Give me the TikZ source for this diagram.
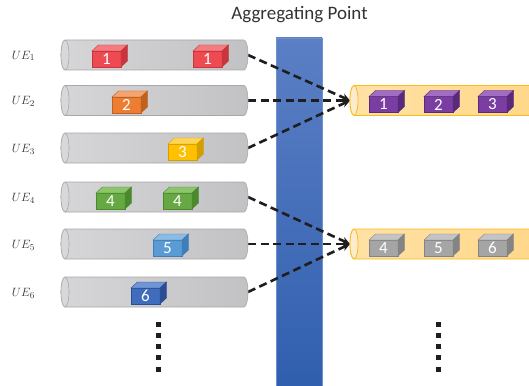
\documentclass[tikz,border=0pt]{standalone}
\usepackage{fontspec}
\setmainfont{Carlito}
\usetikzlibrary{arrows.meta,calc}
\definecolor{titlec}{HTML}{333333}
\definecolor{labelc}{HTML}{333333}
\definecolor{linkc}{HTML}{1E1E1E}
\definecolor{barTop}{HTML}{5B7FC5}
\definecolor{barBot}{HTML}{2F5EAE}
\definecolor{barEdge}{HTML}{7090CC}
\definecolor{tubeL}{HTML}{D6D6D8}
\definecolor{tubeR}{HTML}{C2C2C4}
\definecolor{tubeEdge}{HTML}{A8A8AA}
\definecolor{tubeEnd}{HTML}{D8D8DA}
\definecolor{otubeL}{HTML}{FFE2A6}
\definecolor{otubeR}{HTML}{FFD584}
\definecolor{otubeEdge}{HTML}{F8BC1C}
\definecolor{otubeEnd}{HTML}{FDEBCF}
% cube colours: front / top / side
\definecolor{redF}{HTML}{EE4A52}\definecolor{redT}{HTML}{F47C81}\definecolor{redS}{HTML}{C8353C}
\definecolor{oraF}{HTML}{ED7D31}\definecolor{oraT}{HTML}{F4A46E}\definecolor{oraS}{HTML}{BF621F}
\definecolor{yelF}{HTML}{FFC000}\definecolor{yelT}{HTML}{FFD555}\definecolor{yelS}{HTML}{D29E00}
\definecolor{grnF}{HTML}{66A844}\definecolor{grnT}{HTML}{8DC46C}\definecolor{grnS}{HTML}{4A8A2B}
\definecolor{bluF}{HTML}{5B9BD5}\definecolor{bluT}{HTML}{8CBBE4}\definecolor{bluS}{HTML}{3E7EB9}
\definecolor{dblF}{HTML}{3F6CBC}\definecolor{dblT}{HTML}{7094D4}\definecolor{dblS}{HTML}{2A4E94}
\definecolor{purF}{HTML}{7A3DA2}\definecolor{purT}{HTML}{A16DC3}\definecolor{purS}{HTML}{5A2A7A}
\definecolor{gryF}{HTML}{A5A5A5}\definecolor{gryT}{HTML}{C4C4C4}\definecolor{gryS}{HTML}{848484}
\tikzset{
  tubebox/.style={rectangle, draw=none, minimum height=30pt, inner sep=0pt, outer sep=0pt, anchor=west},
  graybody/.style={left color=tubeL, right color=tubeR, draw=tubeEdge, line width=0.6pt},
  grayend/.style={fill=tubeEnd, draw=tubeEdge, line width=0.6pt},
  orangebody/.style={left color=otubeL, right color=otubeR, draw=otubeEdge, line width=0.8pt},
  orangeend/.style={fill=otubeEnd, draw=otubeEdge, line width=0.8pt},
  cubefront/.style={rectangle, minimum width=29pt, minimum height=16pt, inner sep=0pt, outer sep=0pt,
    text=white, line width=0.4pt, font=\fontsize{17}{17}\selectfont},
  link/.style={line width=2.6pt, draw=linkc, dash pattern=on 8pt off 4.5pt,
    -{Stealth[length=8pt,width=7.5pt]}},
  uelabel/.style={text=labelc, font=\fontsize{12.5}{14}\selectfont},
  dotsq/.style={fill=linkc},
}
\newcommand\drawtube[3]{%
  \path[#2] ([xshift=4pt]#1.north west) -- ([xshift=-4pt]#1.north east)
    arc[start angle=90,end angle=-90,x radius=4pt,y radius=15pt]
    -- ([xshift=4pt]#1.south west)
    arc[start angle=270,end angle=90,x radius=4pt,y radius=15pt] -- cycle;
  \path[#3] ([xshift=4pt]#1.west) ellipse[x radius=4pt,y radius=15pt];
}
\newcommand\mycube[7]{%
  \node[cubefront, fill=#4, draw=#6] (#1) at (#2,#3) {#7};
  \filldraw[fill=#5, draw=#6, line width=0.4pt] (#1.north west) -- ++(6.5pt,6pt)
    -- ([shift={(6.5pt,6pt)}]#1.north east) -- (#1.north east) -- cycle;
  \filldraw[fill=#6, draw=#6, line width=0.4pt] (#1.north east) -- ++(6.5pt,6pt)
    -- ([shift={(6.5pt,6pt)}]#1.south east) -- (#1.south east) -- cycle;
}
\begin{document}
\begin{tikzpicture}[x=1pt,y=-1pt]
\clip (0,0) rectangle (529,385);
% title and bar
\node[text=titlec, font=\fontsize{19}{22}\selectfont] (title) at (299.5,15) {Aggregating Point};
\node[rectangle, minimum width=46pt, minimum height=360pt, inner sep=0pt, outer sep=0pt,
  top color=barTop, bottom color=barBot, draw=barEdge, line width=0.6pt, anchor=north] (bar) at (299,38) {};
% tube placeholders
\node[tubebox, minimum width=187pt] (L1) at (61,55) {};
\node[tubebox, minimum width=187pt] (L2) at (61,100.5) {};
\node[tubebox, minimum width=187pt] (L3) at (61,148) {};
\node[tubebox, minimum width=187pt] (L4) at (61,197) {};
\node[tubebox, minimum width=187pt] (L5) at (61,244) {};
\node[tubebox, minimum width=187pt] (L6) at (61,292) {};
\node[tubebox, minimum width=220pt] (R1) at (350,100.5) {};
\node[tubebox, minimum width=220pt] (R2) at (350,244) {};
% connectors
\draw[link] (L1.east) -- (R1.west);
\draw[link] (L2.east) -- (R1.west);
\draw[link] (L3.east) -- (R1.west);
\draw[link] (L4.east) -- (R2.west);
\draw[link] (L5.east) -- (R2.west);
\draw[link] (L6.east) -- (R2.west);
% tubes
\foreach \t in {L1,L2,L3,L4,L5,L6}{\drawtube{\t}{graybody}{grayend}}
\drawtube{R1}{orangebody}{orangeend}
\drawtube{R2}{orangebody}{orangeend}
% labels
\node[uelabel] (ue1) at (23.5,56) {$UE_1$};
\node[uelabel] (ue2) at (23.5,101.5) {$UE_2$};
\node[uelabel] (ue3) at (23.5,149) {$UE_3$};
\node[uelabel] (ue4) at (23.5,198) {$UE_4$};
\node[uelabel] (ue5) at (23.5,245) {$UE_5$};
\node[uelabel] (ue6) at (23.5,293) {$UE_6$};
% cubes
\mycube{c1a}{106.5}{59}{redF}{redT}{redS}{1}
\mycube{c1b}{207.5}{59}{redF}{redT}{redS}{1}
\mycube{c2}{126.5}{105}{oraF}{oraT}{oraS}{2}
\mycube{c3}{182.5}{152}{yelF}{yelT}{yelS}{3}
\mycube{c4a}{110.5}{201}{grnF}{grnT}{grnS}{4}
\mycube{c4b}{177.5}{201}{grnF}{grnT}{grnS}{4}
\mycube{c5}{167.5}{248}{bluF}{bluT}{bluS}{5}
\mycube{c6}{145.5}{296}{dblF}{dblT}{dblS}{6}
\mycube{p1}{383.5}{104.5}{purF}{purT}{purS}{1}
\mycube{p2}{438.5}{104.5}{purF}{purT}{purS}{2}
\mycube{p3}{492.5}{104.5}{purF}{purT}{purS}{3}
\mycube{g4}{383.5}{248}{gryF}{gryT}{gryS}{4}
\mycube{g5}{438.5}{248}{gryF}{gryT}{gryS}{5}
\mycube{g6}{492.5}{248}{gryF}{gryT}{gryS}{6}
% vertical dots
\foreach \k in {0,...,4}{
  \fill[dotsq] ($(156,321.5)+(0,11.3*\k)$) rectangle ++(5,5);
  \fill[dotsq] ($(436,321.5)+(0,11.3*\k)$) rectangle ++(5,5);
}
\end{tikzpicture}
\end{document}
